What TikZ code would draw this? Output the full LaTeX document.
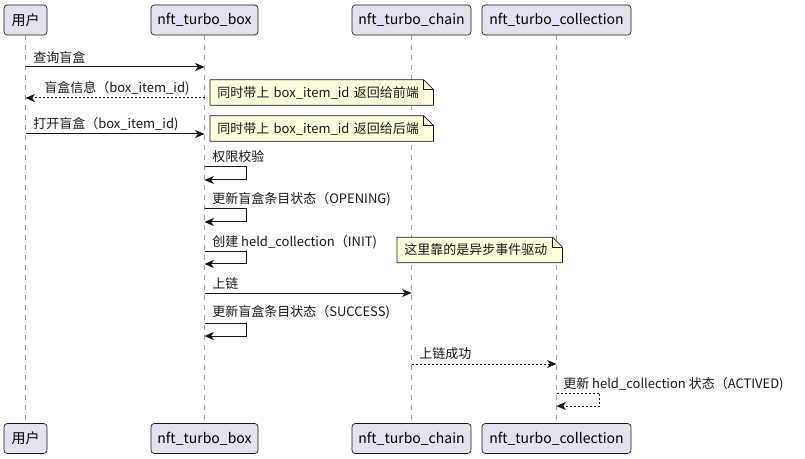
\documentclass[tikz,border=0pt]{standalone}
\usepackage{fontspec}
\setmainfont{Noto Sans CJK SC}
\usetikzlibrary{arrows.meta,positioning,calc,backgrounds}
\definecolor{Ink}{HTML}{181818}
\definecolor{PartFill}{HTML}{E2E2F0}
\definecolor{NoteFill}{HTML}{FEFFDD}
\definecolor{Life}{HTML}{A0A0A0}
\tikzset{
  partbox/.style={rounded corners=2.5pt, draw=Ink, fill=PartFill, line width=0.5pt, minimum height=22.5pt, inner sep=0pt, font=\fontsize{10.5pt}{12pt}\selectfont},
  lifeline/.style={draw=Life, line width=0.6pt, dash pattern=on 3.75pt off 3.75pt},
  msg/.style={-{Stealth[length=7pt,width=6pt,inset=2pt]}, line width=0.75pt, draw=Ink},
  retmsg/.style={msg, dash pattern=on 1.5pt off 1.5pt},
  msglabel/.style={anchor=west, inner sep=0pt, font=\fontsize{9.75pt}{11pt}\selectfont, text=Ink},
  notebox/.style={anchor=west, inner xsep=5.25pt, inner ysep=0pt, minimum height=18.75pt, align=left, font=\fontsize{9.75pt}{11pt}\selectfont, text=Ink},
  notefill/.style={fill=NoteFill, draw=Ink, line width=0.5pt, line join=round},
}

\begin{document}
\begin{tikzpicture}[x=0.75pt,y=-0.75pt]
\path[use as bounding box] (0,0) rectangle (805,459);

% participants, top and bottom
\node[partbox,minimum width=32.25pt] (user) at (25.5,20) {用户};
\node[partbox,minimum width=80.25pt] (box) at (204.5,20) {nft\_turbo\_box};
\node[partbox,minimum width=89.25pt] (chain) at (411.5,20) {nft\_turbo\_chain};
\node[partbox,minimum width=111.75pt] (coll) at (556.5,20) {nft\_turbo\_collection};
\node[partbox,minimum width=32.25pt] (user-bot) at (25.5,438.5) {用户};
\node[partbox,minimum width=80.25pt] (box-bot) at (204.5,438.5) {nft\_turbo\_box};
\node[partbox,minimum width=89.25pt] (chain-bot) at (411.5,438.5) {nft\_turbo\_chain};
\node[partbox,minimum width=111.75pt] (coll-bot) at (556.5,438.5) {nft\_turbo\_collection};

% message levels
\coordinate (m1) at (0,67);
\coordinate (m2) at (0,98);
\coordinate (m3) at (0,134);
\coordinate (s1) at (0,167);
\coordinate (s2) at (0,209);
\coordinate (s3) at (0,252);
\coordinate (m7) at (0,293);
\coordinate (s4) at (0,323);
\coordinate (m9) at (0,364);
\coordinate (s5) at (0,393);

\draw[msg] (user |- m1) -- (box |- m1);
\node[msglabel] (l1) at (33,57) {查询盲盒};
\draw[retmsg] (box |- m2) -- (user |- m2);
\node[msglabel] (l2) at (44,88) {盲盒信息（box\_item\_id)};
\draw[msg] (user |- m3) -- (box |- m3);
\node[msglabel] (l3) at (33,124) {打开盲盒（box\_item\_id)};

\draw[msg] (box |- s1) -- ++(42,0) -- ++(0,13) -- ++(-42,0);
\node[msglabel] (l4) at (212,157) {权限校验};
\draw[msg] (box |- s2) -- ++(42,0) -- ++(0,13) -- ++(-42,0);
\node[msglabel] (l5) at (212,199) {更新盲盒条目状态（OPENING)};
\draw[msg] (box |- s3) -- ++(42,0) -- ++(0,12) -- ++(-42,0);
\node[msglabel] (l6) at (212,242) {创建 held\_collection（INIT)};

\draw[msg] (box |- m7) -- (chain |- m7);
\node[msglabel] (l7) at (212,283) {上链};
\draw[msg] (box |- s4) -- ++(42,0) -- ++(0,13) -- ++(-42,0);
\node[msglabel] (l8) at (212,312) {更新盲盒条目状态（SUCCESS)};

\draw[retmsg] (chain |- m9) -- (coll |- m9);
\node[msglabel] (l9) at (419,354) {上链成功};
\draw[retmsg] (coll |- s5) -- ++(43,0) -- ++(0,13) -- ++(-43,0);
\node[msglabel] (l10) at (563,384) {更新 held\_collection 状态（ACTIVED)};

% notes
\node[notebox,text width=156.75pt] (n1) at (210,92.5) {同时带上 box\_item\_id 返回给前端};
\node[notebox,text width=156.75pt] (n2) at (210,128.5) {同时带上 box\_item\_id 返回给后端};
\node[notebox,text width=113.25pt] (n3) at (397,250) {这里靠的是异步事件驱动};

\begin{scope}[on background layer]
\fill[white] (0,0) rectangle (805,459);
\foreach \p in {user,box,chain,coll}
  \draw[lifeline] (\p.south) -- (\p-bot.north);
\foreach \n in {n1,n2,n3} {
  \filldraw[notefill] (\n.north west) -- ([xshift=-7.5pt]\n.north east) -- ([yshift=-7.5pt]\n.north east) -- (\n.south east) -- (\n.south west) -- cycle;
  \draw[notefill,fill=none] ([xshift=-7.5pt]\n.north east) -- ([xshift=-7.5pt,yshift=-7.5pt]\n.north east) -- ([yshift=-7.5pt]\n.north east);
}
\end{scope}
\end{tikzpicture}
\end{document}
